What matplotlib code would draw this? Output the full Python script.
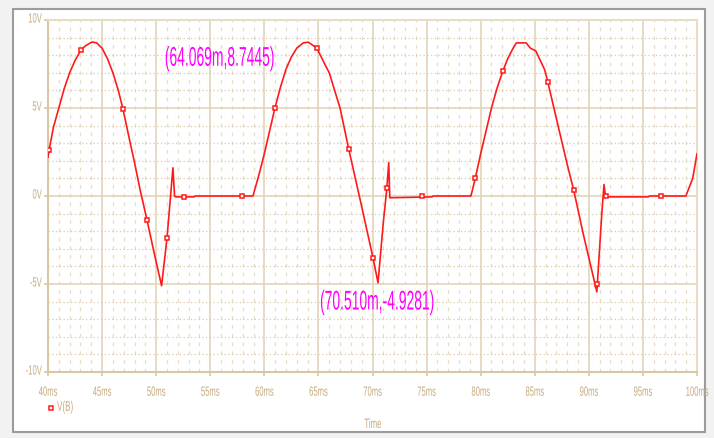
import matplotlib
matplotlib.use("Agg")
import matplotlib.pyplot as plt
from matplotlib.lines import Line2D
from matplotlib.patches import Rectangle
from matplotlib.patheffects import AbstractPathEffect
from matplotlib.ticker import MultipleLocator
from matplotlib.transforms import Affine2D

# V(B) trace (time in ms, volts)
time_ms = [40.0, 40.1, 40.5, 41.0, 41.5, 42.0, 42.5, 43.05, 43.5, 44.07, 44.5,
           45.0, 45.5, 46.0, 46.5, 46.93, 47.5, 48.0, 48.5, 49.15, 49.8, 50.5,
           51.0, 51.55, 51.7, 51.8, 53.5, 53.6, 58.95, 59.5, 60.0, 60.98, 61.5,
           62.0, 62.5, 63.0, 63.6, 64.07, 64.86, 65.5, 66.0, 66.5, 67.0, 67.8,
           69.0, 70.04, 70.51, 71.0, 71.33, 71.5, 71.6, 75.5, 75.6, 79.1, 79.5,
           80.0, 81.0, 81.5, 82.05, 82.5, 83.0, 83.3, 84.2, 84.6, 85.1, 85.9,
           86.2, 87.0, 88.0, 88.6, 89.5, 90.74, 91.2, 91.4, 91.55, 95.5, 95.6,
           98.97, 99.6, 100.0]
volts = [2.2, 2.6, 3.9, 5.0, 6.1, 7.0, 7.7, 8.3, 8.55, 8.75, 8.7,
         8.4, 7.8, 7.0, 6.0, 4.94, 3.3, 1.9, 0.4, -1.36, -3.2, -5.1,
         -2.4, 1.6, 0.0, -0.05, -0.05, 0.0, 0.0, 1.2, 2.4, 5.0, 6.2,
         7.2, 7.9, 8.4, 8.7, 8.74, 8.4, 7.6, 7.0, 6.0, 5.0, 2.67,
         -0.6, -3.5, -4.93, -1.5, 0.45, 1.9, -0.1, -0.05, 0.0, 0.0, 1.0,
         2.4, 5.0, 6.1, 7.1, 7.8, 8.4, 8.7, 8.7, 8.4, 8.24, 7.2,
         6.5, 4.4, 1.8, 0.34, -2.2, -5.45, -1.0, 0.65, -0.05, -0.05, 0.0,
         0.0, 1.0, 2.4]

# little square markers drawn on the trace
marker_t = [40.1, 43.05, 46.93, 49.15, 51.0, 52.57, 57.9, 60.98, 64.86, 67.8,
            70.04, 71.33, 74.6, 79.5, 82.05, 86.2, 88.6, 90.74, 91.57, 96.7]
marker_v = [2.6, 8.3, 4.94, -1.36, -2.4, -0.05, 0.0, 5.0, 8.4, 2.67,
            -3.5, 0.45, 0.0, 1.0, 7.1, 6.5, 0.34, -5.0, 0.0, 0.0]

x_ticks = [40, 45, 50, 55, 60, 65, 70, 75, 80, 85, 90, 95, 100]
x_labels = ['40ms', '45ms', '50ms', '55ms', '60ms', '65ms', '70ms', '75ms',
            '80ms', '85ms', '90ms', '95ms', '100ms']
y_ticks = [-10, -5, 0, 5, 10]
y_labels = ['-10V', '-5V', '0V', '5V', '10V']

cursor_labels = ['(64.069m,8.7445)', '(70.510m,-4.9281)']
cursor_pos = [(50.8, 7.4), (65.15, -6.45)]


class Tall(AbstractPathEffect):
    """Stretch glyphs upward from the baseline (the probe uses a tall narrow font)."""

    def __init__(self, sy):
        super().__init__()
        self.sy = sy

    def draw_path(self, renderer, gc, tpath, affine, rgbFace=None):
        renderer.draw_path(gc, tpath, Affine2D().scale(1, self.sy) + affine, rgbFace)


font = 'Liberation Sans'
tan = '#c6aa7e'
grid_tan = '#e3d4b9'
red = '#ff1a1a'

fig = plt.figure(figsize=(7.14, 4.39), dpi=100, facecolor='#f2f2f2')
fig.patches.append(Rectangle((13 / 714, 1 - 433 / 439), 692 / 714, 423 / 439,
                             transform=fig.transFigure, facecolor='white',
                             edgecolor='#9c9c9c', linewidth=1.5, zorder=-5))

ax = fig.add_axes([48 / 714, 1 - 373 / 439, 649 / 714, 352 / 439])
ax.set_zorder(2)
ax.set_facecolor('white')

ax.plot(time_ms, volts, color=red, linewidth=1.2, zorder=3)
ax.plot(marker_t, marker_v, linestyle='none', marker='s', markersize=3.5,
        markerfacecolor='white', markeredgecolor=red, markeredgewidth=1.1,
        zorder=4)

ax.set_xlim(40, 100)
ax.set_ylim(-10, 10)
ax.set_xticks(x_ticks)
ax.set_xticklabels(x_labels)
ax.set_yticks(y_ticks)
ax.set_yticklabels(y_labels)
ax.xaxis.set_minor_locator(MultipleLocator(1))
ax.yaxis.set_minor_locator(MultipleLocator(1))

ax.grid(which='major', color=grid_tan, linewidth=1.2, linestyle='-')
ax.xaxis.grid(which='minor', color='#e8dcc6', linewidth=0.9, linestyle=(0, (3, 4)))
ax.yaxis.grid(which='minor', color='#ddcbab', linewidth=0.9, linestyle=(0, (1, 2)))
ax.set_axisbelow(True)

ax.tick_params(which='major', color='#d9c6a4', length=3, width=1.2,
               labelcolor=tan, labelsize=5.5)
ax.tick_params(axis='x', which='major', pad=10.5)
ax.tick_params(axis='y', which='major', pad=1.5)
ax.tick_params(which='minor', length=0)
for lab in ax.get_xticklabels() + ax.get_yticklabels():
    lab.set_fontfamily(font)
    lab.set_path_effects([Tall(1.75)])

for side in ['left', 'bottom']:
    ax.spines[side].set_color('#d9c6a4')
    ax.spines[side].set_linewidth(1.5)
for side in ['top', 'right']:
    ax.spines[side].set_color('#e8dcc6')
    ax.spines[side].set_linewidth(1.5)

for txt, (tx, ty) in zip(cursor_labels, cursor_pos):
    ax.text(tx, ty, txt, color='#ff00ff', fontsize=10, family=font,
            ha='left', va='baseline', zorder=5, path_effects=[Tall(1.95)])

# legend entry below the plot: marker only
proxy = Line2D([], [], linestyle='none', marker='s', markersize=3.5,
               markerfacecolor='white', markeredgecolor=red, markeredgewidth=1.1)
leg = ax.legend([proxy], ['V(B)'], loc='center left', frameon=False,
                bbox_to_anchor=(45 / 714, 1 - 410 / 439),
                bbox_transform=fig.transFigure,
                handlelength=0.6, handletextpad=0.4, borderpad=0,
                prop={'family': font, 'size': 5.8}, labelcolor=tan)
for t in leg.get_texts():
    t.set_path_effects([Tall(1.75)])

fig.text(373 / 714, 1 - 429 / 439, 'Time', ha='center', va='baseline',
         color=tan, fontsize=5.6, family=font, path_effects=[Tall(1.75)])

fig.savefig('out.png', dpi=100, facecolor=fig.get_facecolor())
